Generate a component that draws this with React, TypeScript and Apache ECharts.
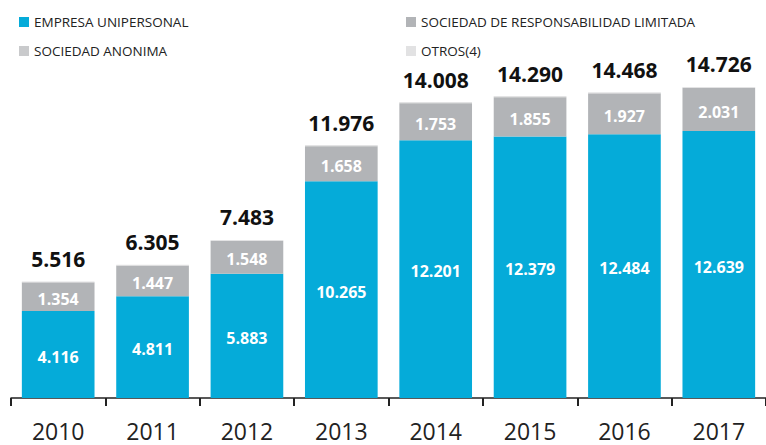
import React, { useEffect, useRef } from "react";
import * as echarts from "echarts";

const years = ["2010", "2011", "2012", "2013", "2014", "2015", "2016", "2017"];
const unipersonal = [4116, 4811, 5883, 10265, 12201, 12379, 12484, 12639];
const srl = [1354, 1447, 1548, 1658, 1753, 1855, 1927, 2031];
const anonima = [26, 27, 30, 31, 32, 33, 34, 33];
const otros = [20, 20, 22, 22, 22, 23, 23, 23];
const totals = [5516, 6305, 7483, 11976, 14008, 14290, 14468, 14726];

const fmt = (v: number) => String(v).replace(/\B(?=(\d{3})+(?!\d))/g, ".");
const FONT = "'Open Sans', 'Noto Sans', sans-serif";

export default function App() {
  const ref = useRef<HTMLDivElement>(null);
  useEffect(() => {
    document.body.style.margin = "0";
    const chart = echarts.init(ref.current!, undefined, { renderer: "svg" });
    const segLabel = {
      show: true,
      position: "inside" as const,
      color: "#ffffff",
      fontSize: 16,
      fontWeight: "bold" as const,
      fontFamily: FONT,
      offset: [0, 2],
      formatter: (p: any) => fmt(p.value),
    };
    const legendText = { fontSize: 13.5, color: "#222", fontFamily: FONT };
    chart.setOption({
      animation: false,
      textStyle: { fontFamily: FONT },
      legend: [
        {
          data: ["EMPRESA UNIPERSONAL", "SOCIEDAD ANONIMA"],
          orient: "vertical",
          left: 14,
          top: 10,
          itemWidth: 10,
          itemHeight: 10,
          itemGap: 15,
          icon: "rect",
          textStyle: legendText,
        },
        {
          data: ["SOCIEDAD DE RESPONSABILIDAD LIMITADA", "OTROS(4)"],
          orient: "vertical",
          left: 401,
          top: 10,
          itemWidth: 10,
          itemHeight: 10,
          itemGap: 15,
          icon: "rect",
          textStyle: legendText,
        },
      ],
      grid: { left: 11, width: 760, top: 60, bottom: 47, containLabel: false },
      xAxis: {
        type: "category",
        data: years,
        axisLine: { lineStyle: { color: "#222", width: 1.5 } },
        axisTick: { show: true, length: 8, lineStyle: { color: "#222", width: 2 } },
        axisLabel: { fontSize: 23, color: "#222", margin: 21, fontFamily: FONT },
      },
      yAxis: { type: "value", min: 0, max: 16000, show: false, splitLine: { show: false } },
      series: [
        {
          name: "EMPRESA UNIPERSONAL",
          type: "bar",
          stack: "t",
          barWidth: "77%",
          data: unipersonal,
          itemStyle: { color: "#05abd9" },
          label: segLabel,
        },
        {
          name: "SOCIEDAD DE RESPONSABILIDAD LIMITADA",
          type: "bar",
          stack: "t",
          data: srl,
          itemStyle: { color: "#b2b4b7" },
          label: segLabel,
        },
        {
          name: "SOCIEDAD ANONIMA",
          type: "bar",
          stack: "t",
          data: anonima,
          itemStyle: { color: "#c9cacc" },
        },
        {
          name: "OTROS(4)",
          type: "bar",
          stack: "t",
          data: otros,
          itemStyle: { color: "#e2e2e3" },
          label: {
            show: true,
            position: "top",
            distance: 12,
            color: "#111",
            fontSize: 21,
            fontWeight: "bold",
            fontFamily: FONT,
            formatter: (p: any) => fmt(totals[p.dataIndex]),
          },
        },
      ],
    });
    return () => chart.dispose();
  }, []);
  return <div ref={ref} style={{ width: 766, height: 445 }} />;
}
